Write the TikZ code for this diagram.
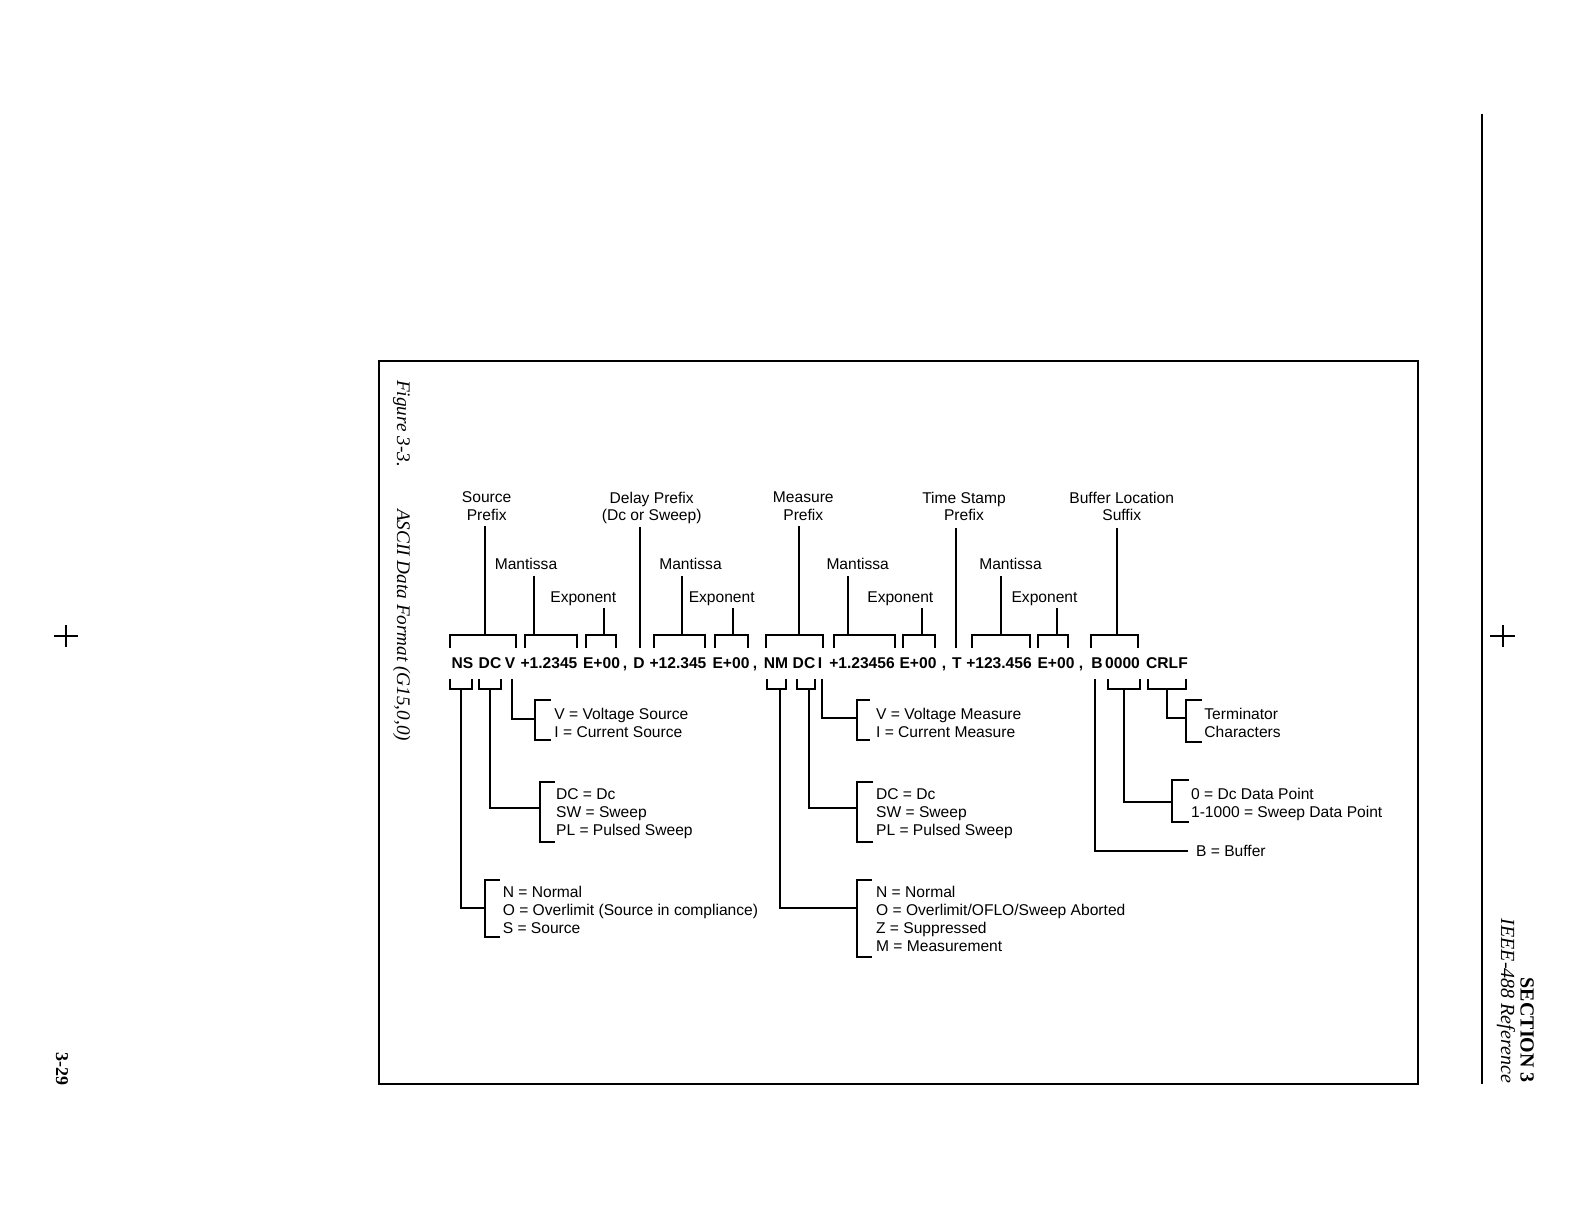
\documentclass[tikz,border=0pt]{standalone}
\usepackage{fontspec}
\setmainfont{Liberation Serif}
\setsansfont{Liberation Sans}
\usetikzlibrary{calc}
\newcommand\tbrk[4]{\draw (#1,648) -- (#1,635) -- (#2,635) -- (#2,648); \coordinate (#4) at (#3,635);}
\newcommand\bbrk[4]{\draw (#1,679) -- (#1,689.3) -- (#2,689.3) -- (#2,679); \coordinate (#4) at (#3,689.3);}
\newcommand\spinebrk[4]{\draw (#4,#2) -- (#1,#2) -- (#1,#3) -- (#4,#3);}
\begin{document}
\begin{tikzpicture}[x=0.5pt,y=-0.5pt,line width=1.1pt,
  lbl/.style={font=\sffamily\fontsize{7.8}{8.65}\selectfont,inner sep=0pt,text depth=0pt},
  tok/.style={font=\sffamily\bfseries\fontsize{7.8}{8.8}\selectfont,inner sep=0pt,anchor=base},
  lst/.style={font=\sffamily\fontsize{7.8}{8.95}\selectfont,inner sep=0pt,align=left,anchor=north west},
  captxt/.style={font=\rmfamily\itshape\fontsize{9.6}{11}\selectfont,inner sep=0pt,rotate=-90,anchor=base west}]
\useasboundingbox (0,0) rectangle (1584,1224);

% page furniture
\draw[line width=1pt] (378.5,361) rectangle (1418,1084);
\draw[line width=1.1pt] (1482,114) -- (1482,1084);
\draw[line width=1pt] (54,636) -- (78,636) (66,625) -- (66,647);
\draw[line width=1pt] (1490,636) -- (1515,636) (1502.5,625) -- (1502.5,647);
\node[captxt] (fig) at (397,379) {Figure 3-3.};
\node[captxt] (title) at (397,508) {ASCII Data Format (G15,0,0)};
\node[inner sep=0pt,rotate=-90,anchor=base east,font=\rmfamily\bfseries\fontsize{10}{12}\selectfont] (sec) at (1520.5,1084) {SECTION 3};
\node[inner sep=0pt,rotate=-90,anchor=base east,font=\rmfamily\itshape\fontsize{10}{12}\selectfont] (ieee) at (1501,1084) {IEEE-488 Reference};
\node[inner sep=0pt,rotate=-90,anchor=base west,font=\rmfamily\bfseries\fontsize{9}{11}\selectfont] (pg) at (56,1051) {3-29};

% upper labels
\node[lbl,align=center,anchor=north] (src) at (486.7,490.9) {Source\\Prefix};
\node[lbl,align=center,anchor=north] (dly) at (651.7,490.9) {Delay Prefix\\(Dc or Sweep)};
\node[lbl,align=center,anchor=north] (mea) at (803.3,490.9) {Measure\\Prefix};
\node[lbl,align=center,anchor=north] (tim) at (964,490.9) {Time Stamp\\Prefix};
\node[lbl,align=center,anchor=north] (buf) at (1121.7,490.9) {Buffer Location\\Suffix};
\node[lbl,anchor=base] (m1) at (526,569.1) {Mantissa};
\node[lbl,anchor=base] (m2) at (690.5,569.1) {Mantissa};
\node[lbl,anchor=base] (m3) at (857.7,569.1) {Mantissa};
\node[lbl,anchor=base] (m4) at (1010.5,569.1) {Mantissa};
\node[lbl,anchor=base] (e1) at (583.3,602.5) {Exponent};
\node[lbl,anchor=base] (e2) at (721.7,602.5) {Exponent};
\node[lbl,anchor=base] (e3) at (900.3,602.5) {Exponent};
\node[lbl,anchor=base] (e4) at (1044.5,602.5) {Exponent};

% data string
\node[tok] (ns) at (462.5,668.3) {NS};
\node[tok] (dc1) at (490,668.3) {DC};
\node[tok] (v) at (510,668.3) {V};
\node[tok] (man1) at (549,668.3) {+1.2345};
\node[tok] (exp1) at (601.5,668.3) {E+00};
\node[tok] (c1) at (625,668.3) {,};
\node[tok] (d) at (639,668.3) {D};
\node[tok] (man2) at (678,668.3) {+12.345};
\node[tok] (exp2) at (731,668.3) {E+00};
\node[tok] (c2) at (755,668.3) {,};
\node[tok] (nm) at (776,668.3) {NM};
\node[tok] (dc2) at (804,668.3) {DC};
\node[tok] (i) at (820,668.3) {I};
\node[tok] (man3) at (862,668.3) {+1.23456};
\node[tok] (exp3) at (918,668.3) {E+00};
\node[tok] (c3) at (944,668.3) {,};
\node[tok] (t) at (957,668.3) {T};
\node[tok] (man4) at (999,668.3) {+123.456};
\node[tok] (exp4) at (1056,668.3) {E+00};
\node[tok] (c4) at (1081,668.3) {,};
\node[tok] (b) at (1097,668.3) {B};
\node[tok] (loc) at (1122.5,668.3) {0000};
\node[tok] (crlf) at (1167,668.3) {CRLF};

% upper brackets and stems
\tbrk{450}{516}{485}{ts1}
\tbrk{525}{576.7}{534.3}{tm1}
\tbrk{585.7}{615.7}{604}{te1}
\tbrk{654}{705}{681.7}{tm2}
\tbrk{715}{748.3}{732.7}{te2}
\tbrk{766}{823.3}{799}{tme}
\tbrk{834}{895}{848.3}{tm3}
\tbrk{903.3}{935}{921.7}{te3}
\tbrk{971.7}{1030}{1000.7}{tm4}
\tbrk{1038.3}{1068.3}{1056.7}{te4}
\tbrk{1091}{1138.3}{1116.7}{tbu}
\coordinate (tdl) at (640,648);
\coordinate (tti) at (956,648);
\draw ($(src.south -| ts1)+(0,5.2)$) -- (ts1);
\draw ($(dly.south -| tdl)+(0,5.2)$) -- (tdl);
\draw ($(mea.south -| tme)+(0,5.2)$) -- (tme);
\draw ($(tim.south -| tti)+(0,6.5)$) -- (tti);
\draw ($(buf.south -| tbu)+(0,6.5)$) -- (tbu);
\draw ($(m1.south -| tm1)+(0,5.9)$) -- (tm1);
\draw ($(m2.south -| tm2)+(0,5.9)$) -- (tm2);
\draw ($(m3.south -| tm3)+(0,5.9)$) -- (tm3);
\draw ($(m4.south -| tm4)+(0,5.9)$) -- (tm4);
\draw ($(e1.south -| te1)+(0,4.2)$) -- (te1);
\draw ($(e2.south -| te2)+(0,4.2)$) -- (te2);
\draw ($(e3.south -| te3)+(0,4.2)$) -- (te3);
\draw ($(e4.south -| te4)+(0,4.2)$) -- (te4);

% lower lists
\node[lst] (lvs) at (553.3,707.5) {V = Voltage Source\\I = Current Source};
\node[lst] (lds) at (555,787.5) {DC = Dc\\SW = Sweep\\PL = Pulsed Sweep};
\node[lst] (lns) at (501.7,885.2) {N = Normal\\O = Overlimit (Source in compliance)\\S = Source};
\node[lst] (lvm) at (875,707.5) {V = Voltage Measure\\I = Current Measure};
\node[lst] (ldm) at (875,787.5) {DC = Dc\\SW = Sweep\\PL = Pulsed Sweep};
\node[lst] (lnm) at (875,885.2) {N = Normal\\O = Overlimit/OFLO/Sweep Aborted\\Z = Suppressed\\M = Measurement};
\node[lst] (lterm) at (1203.3,707.5) {Terminator\\Characters};
\node[lst] (lpt) at (1190,786.9) {0 = Dc Data Point\\1-1000 = Sweep Data Point};
\node[lbl,anchor=west] (lbuf) at (1195,851) {B = Buffer};

% lower brackets
\bbrk{450}{471.7}{460.7}{bns}
\bbrk{479.3}{500.7}{490}{bdc1}
\coordinate (bv) at (511.7,679);
\bbrk{766.7}{786}{780}{bnm}
\bbrk{796.7}{815}{809.3}{bdc2}
\coordinate (bi) at (822.3,679);
\coordinate (bb) at (1095,679);
\bbrk{1108.3}{1140}{1124.3}{bloc}
\bbrk{1148.3}{1186}{1166.7}{bcr}

% spines
\spinebrk{485}{880}{936.7}{500}
\spinebrk{540}{781.7}{841.7}{555}
\spinebrk{535}{700}{740}{551}
\spinebrk{856.7}{880}{956.7}{871.7}
\spinebrk{856.7}{781.7}{841.7}{873.3}
\spinebrk{856.7}{700}{740}{870}
\spinebrk{1171.7}{780}{821.7}{1189.3}
\spinebrk{1186}{700}{741.7}{1201.7}
\coordinate (sns) at (485,908.3);
\coordinate (sdc1) at (540,808.3);
\coordinate (sv) at (535,719.3);
\coordinate (snm) at (856.7,908.3);
\coordinate (sdc2) at (856.7,808.3);
\coordinate (si) at (856.7,718.3);
\coordinate (sloc) at (1171.7,801.7);
\coordinate (scr) at (1186,718.3);

% elbow connectors
\draw (bns) |- (sns);
\draw (bdc1) |- (sdc1);
\draw (bv) |- (sv);
\draw (bnm) |- (snm);
\draw (bdc2) |- (sdc2);
\draw (bi) |- (si);
\draw (bloc) |- (sloc);
\draw (bcr) |- (scr);
\draw (bb) |- ($(lbuf.west)+(-6.7,0)$);
\end{tikzpicture}
\end{document}
